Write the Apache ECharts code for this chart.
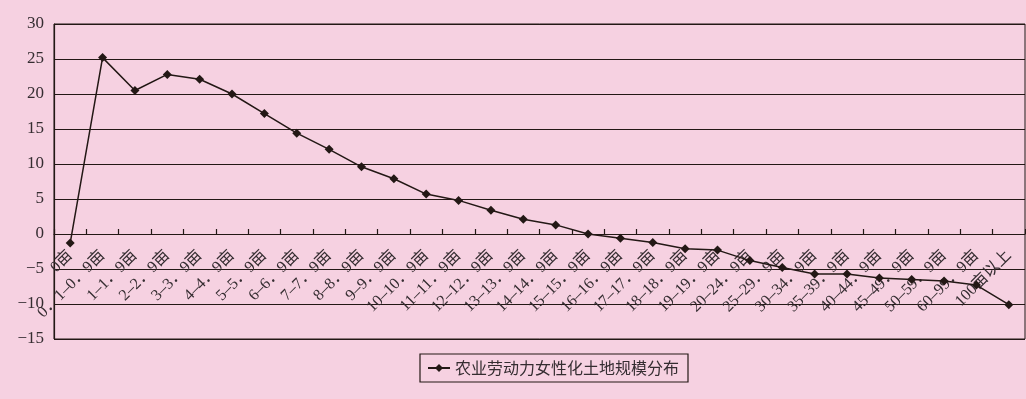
<!DOCTYPE html>
<html>
<head>
<meta charset="utf-8">
<script src="https://cdn.jsdelivr.net/npm/echarts@6/dist/echarts.min.js"></script>
<style>
  html, body { margin: 0; padding: 0; background: #F6D1E1; }
  #chart { width: 1026px; height: 399px; }
</style>
</head>
<body>
<div id="chart"></div>
<script>
// Land-size bands (亩) along the horizontal axis
const sizeBands = [
  '0亩', '0．1–0．9亩', '1–1．9亩', '2–2．9亩', '3–3．9亩', '4–4．9亩',
  '5–5．9亩', '6–6．9亩', '7–7．9亩', '8–8．9亩', '9–9．9亩', '10–10．9亩',
  '11–11．9亩', '12–12．9亩', '13–13．9亩', '14–14．9亩', '15–15．9亩',
  '16–16．9亩', '17–17．9亩', '18–18．9亩', '19–19．9亩', '20–24．9亩',
  '25–29．9亩', '30–34．9亩', '35–39．9亩', '40–44．9亩', '45–49．9亩',
  '50–59．9亩', '60–99．9亩', '100亩以上'
];

// Feminization distribution value for each band
const feminizationValues = [
  -1.3, 25.2, 20.5, 22.8, 22.1, 20.0, 17.2, 14.4, 12.1, 9.6,
  7.9, 5.7, 4.8, 3.4, 2.1, 1.3, 0.0, -0.6, -1.2, -2.1,
  -2.3, -3.8, -4.8, -5.7, -5.7, -6.3, -6.5, -6.7, -7.3, -10.1
];

const seriesName = '农业劳动力女性化土地规模分布';
const yMin = -15, yMax = 30, yStep = 5;

const ink = '#231815';
const labelInk = '#352d31';
const serif = '"Liberation Serif", "DejaVu Serif", "Noto Sans CJK SC", serif';

// plot box geometry
const gridTop = 24, gridBottom = 60, chartHeight = 399;
const plotHeight = chartHeight - gridTop - gridBottom;
// lift the category axis from the bottom edge up to the zero line
const zeroLift = -plotHeight * (0 - yMin) / (yMax - yMin);

const chart = echarts.init(document.getElementById('chart'), null, { renderer: 'canvas' });

chart.setOption({
  backgroundColor: '#F6D1E1',
  animation: false,
  grid: {
    left: 54, right: 1, top: gridTop, bottom: gridBottom,
    containLabel: false,
    outerBoundsMode: 'none',
    show: true,
    borderColor: ink,
    borderWidth: 1,
    backgroundColor: 'transparent'
  },
  legend: {
    left: 420, top: 354,
    padding: [6, 9, 6, 7],
    borderColor: ink,
    borderWidth: 1.2,
    itemWidth: 22, itemHeight: 10,
    itemGap: 10,
    textStyle: {
      fontFamily: '"Noto Sans CJK SC", sans-serif',
      fontSize: 16,
      color: labelInk
    },
    data: [seriesName]
  },
  xAxis: {
    type: 'category',
    position: 'bottom',
    offset: zeroLift,
    data: sizeBands,
    boundaryGap: true,
    axisLine: { onZero: false, lineStyle: { color: ink, width: 1.2 } },
    axisTick: { show: true, inside: true, length: 5, lineStyle: { color: ink, width: 1.2 } },
    axisLabel: {
      interval: 0,
      rotate: 45,
      margin: 19,
      fontFamily: serif,
      fontSize: 16,
      color: labelInk
    },
    splitLine: { show: false }
  },
  yAxis: {
    type: 'value',
    min: yMin, max: yMax, interval: yStep,
    axisLine: { show: true, lineStyle: { color: ink, width: 1.2 } },
    axisTick: { show: false },
    axisLabel: {
      margin: 10,
      fontFamily: serif,
      fontSize: 17,
      color: labelInk,
      formatter: v => String(v).replace('-', '−')
    },
    splitLine: { show: true, lineStyle: { color: ink, width: 1.2 } }
  },
  series: [{
    name: seriesName,
    type: 'line',
    data: feminizationValues,
    symbol: 'diamond',
    symbolSize: 9,
    itemStyle: { color: ink },
    lineStyle: { color: ink, width: 1.5 }
  }]
});
</script>
</body>
</html>
